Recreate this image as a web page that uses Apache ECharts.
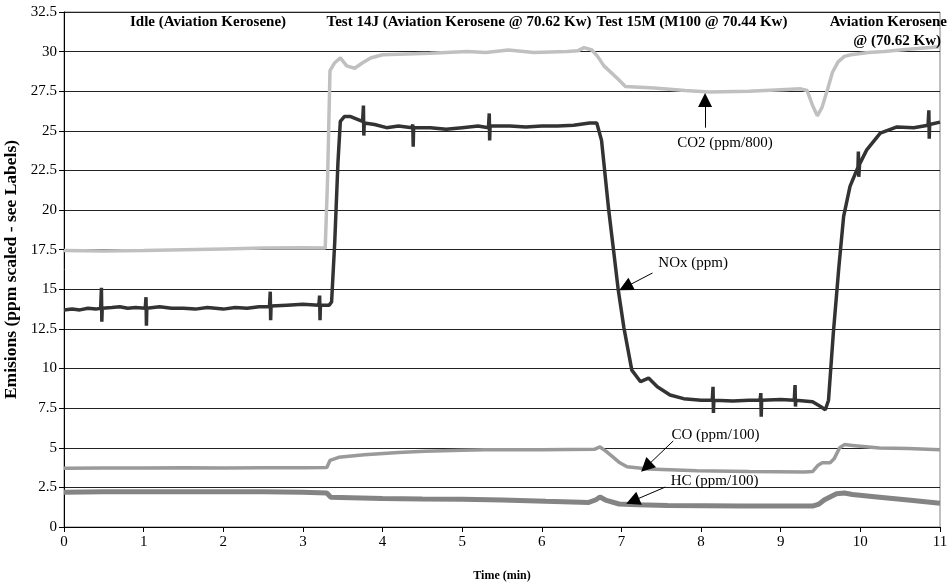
<!DOCTYPE html>
<html lang="en">
<head>
    <meta charset="UTF-8">
    <title>Emissions</title>
    <script src="https://cdn.jsdelivr.net/npm/echarts@6/dist/echarts.min.js"></script>
    <style>
        body { margin: 0; background: #fff; }
    </style>
</head>
<body>
   <div id="main" style="width: 952px;height:587px;"></div>
   <script type="text/javascript">
       // values, [time (min), scaled ppm]
       var co2Data = [[0,17.45],[0.5,17.42],[1.0,17.45],[1.5,17.5],[2.0,17.55],[2.5,17.6],[3.0,17.62],[3.28,17.6],
           [3.31,22],[3.34,28.8],[3.4,29.3],[3.47,29.6],[3.55,29.1],[3.65,28.95],[3.75,29.3],[3.85,29.6],[4.0,29.8],
           [4.3,29.85],[4.6,29.9],[5.06,30.0],[5.3,29.95],[5.58,30.1],[5.9,29.95],[6.32,30.0],[6.45,30.05],[6.53,30.25],
           [6.63,30.1],[6.7,29.7],[6.78,29.1],[6.95,28.3],[7.05,27.8],[7.41,27.7],[7.8,27.55],[8.1,27.45],[8.6,27.5],
           [9.0,27.6],[9.25,27.65],[9.33,27.55],[9.4,26.6],[9.46,25.95],[9.52,26.5],[9.59,27.65],[9.65,28.7],[9.72,29.35],
           [9.8,29.7],[9.88,29.8],[10.1,29.95],[10.3,30.0],[10.6,30.15],[11,30.3]];

       var noxData = [[0,13.7],[0.1,13.75],[0.2,13.7],[0.3,13.8],[0.4,13.75],[0.46,13.8],[0.47,15.1],[0.475,12.95],[0.48,13.8],
           [0.6,13.85],[0.7,13.9],[0.8,13.8],[0.9,13.85],[1.02,13.8],[1.03,14.5],[1.035,12.7],[1.04,13.8],[1.2,13.9],
           [1.35,13.8],[1.5,13.8],[1.65,13.75],[1.8,13.85],[2.0,13.75],[2.15,13.85],[2.3,13.8],[2.45,13.9],[2.58,13.9],
           [2.59,14.85],[2.595,13.05],[2.6,13.95],[2.8,14.0],[3.0,14.05],[3.2,14.0],[3.21,14.6],[3.215,13.05],[3.22,14.0],
           [3.33,14.0],[3.36,14.2],[3.4,18],[3.44,23],[3.47,25.6],[3.52,25.9],[3.6,25.9],[3.7,25.7],[3.75,25.6],
           [3.76,26.6],[3.765,24.7],[3.77,25.5],[3.9,25.4],[4.05,25.2],[4.2,25.3],[4.37,25.2],[4.38,25.4],[4.385,24.0],
           [4.39,25.2],[4.6,25.2],[4.8,25.1],[5.0,25.2],[5.2,25.3],[5.33,25.2],[5.34,26.1],[5.345,24.4],[5.35,25.3],
           [5.6,25.3],[5.8,25.25],[6.0,25.3],[6.2,25.3],[6.4,25.35],[6.6,25.5],[6.69,25.5],[6.75,24.4],[6.84,20.0],
           [6.9,17.5],[6.96,14.95],[7.03,12.6],[7.13,9.9],[7.24,9.17],[7.34,9.4],[7.45,8.85],[7.61,8.33],[7.78,8.1],
           [8.0,8.0],[8.14,8.0],[8.15,8.85],[8.155,7.2],[8.16,8.0],[8.4,7.95],[8.6,8.0],[8.74,8.0],[8.75,8.45],
           [8.755,6.96],[8.76,8.0],[9.0,8.05],[9.17,8.0],[9.18,8.96],[9.185,7.6],[9.19,8.0],[9.4,7.9],[9.5,7.6],
           [9.56,7.4],[9.6,8.0],[9.66,12.2],[9.73,16.4],[9.79,19.6],[9.87,21.5],[9.97,22.7],[9.975,23.7],[9.98,22.1],
           [9.99,22.9],[10.08,23.8],[10.25,24.85],[10.46,25.25],[10.67,25.2],[10.85,25.35],[10.86,26.3],[10.865,24.5],
           [10.87,25.4],[11,25.55]];

       var coData = [[0,3.7],[0.5,3.72],[1.0,3.72],[1.5,3.74],[2.0,3.72],[2.5,3.74],[3.0,3.74],[3.3,3.75],[3.34,4.2],
           [3.45,4.4],[3.77,4.56],[4.2,4.7],[4.53,4.78],[5.0,4.85],[5.29,4.88],[6.0,4.88],[6.66,4.9],[6.73,5.05],
           [6.8,4.8],[6.88,4.47],[6.98,4.05],[7.07,3.8],[7.34,3.66],[7.95,3.55],[8.6,3.5],[9.3,3.47],[9.4,3.5],
           [9.47,3.9],[9.52,4.05],[9.62,4.05],[9.67,4.3],[9.74,5.0],[9.8,5.2],[9.9,5.15],[10.24,4.98],[10.6,4.95],[11,4.88]];

       var hcData = [[0,2.2],[0.5,2.22],[1.0,2.22],[1.5,2.23],[2.0,2.22],[2.5,2.23],[3.0,2.2],[3.3,2.15],[3.35,1.88],
           [3.6,1.85],[4.0,1.8],[4.5,1.77],[5.0,1.75],[5.5,1.7],[6.05,1.62],[6.59,1.55],[6.68,1.72],[6.73,1.89],
           [6.8,1.7],[6.97,1.45],[7.2,1.4],[7.58,1.36],[8.5,1.33],[9.4,1.32],[9.48,1.45],[9.55,1.72],[9.7,2.1],
           [9.8,2.15],[9.9,2.05],[10.24,1.88],[10.6,1.7],[11,1.5]];

       // arrow annotations: [label, label pos, arrow tail, arrow tip] in data units
       var noteLabels = ['CO2 (ppm/800)', 'NOx (ppm)', 'CO (ppm/100)', 'HC (ppm/100)'];
       var noteTextAt = [[8.30,24.25],[7.90,16.66],[8.18,5.8],[8.17,2.9]];
       var noteTail = [[8.05,25.2],[7.39,16.03],[7.65,5.43],[7.55,2.52]];
       var noteTip = [[8.05,26.95],[7.05,15.14],[7.31,3.79],[7.14,1.64]];

       var phaseTitles = ['Idle (Aviation Kerosene)', 'Test 14J (Aviation Kerosene @ 70.62 Kw)',
           'Test 15M (M100 @ 70.44 Kw)', 'Aviation Kerosene', '@ (70.62 Kw)'];

       var serif = '"Liberation Serif", "DejaVu Serif", serif';

       var myChart = echarts.init(document.getElementById('main'));

       var arrows = [];
       for (var i = 0; i < noteTail.length; i++) {
           arrows.push([{coord: noteTail[i]}, {coord: noteTip[i]}]);
       }

       function line(name, data, color, width) {
           return {
               name: name,
               type: 'line',
               data: data,
               showSymbol: false,
               smooth: false,
               lineStyle: {color: color, width: width},
               z: 3
           };
       }

       var option = {
           animation: false,
           grid: {left: 64, right: 12, top: 12, bottom: 60, show: true, borderColor: '#808080', borderWidth: 1,
               outerBoundsMode: 'none', containLabel: false},
           xAxis: {
               type: 'value', min: 0, max: 11, interval: 1,
               name: 'Time (min)', nameLocation: 'middle', nameGap: 43,
               nameTextStyle: {fontFamily: serif, fontWeight: 'bold', fontSize: 12, color: '#000'},
               axisLine: {lineStyle: {color: '#000'}},
               axisTick: {show: true, length: 5, lineStyle: {color: '#000'}},
               axisLabel: {fontFamily: serif, fontSize: 15, color: '#000', margin: 8},
               splitLine: {show: false}
           },
           yAxis: {
               type: 'value', min: 0, max: 32.5, interval: 2.5,
               name: 'Emisions (ppm scaled - see Labels)', nameLocation: 'middle', nameGap: 44,
               nameMoveOverlap: false,
               nameTextStyle: {fontFamily: serif, fontWeight: 'bold', fontSize: 17.5, color: '#000'},
               axisLine: {show: true, lineStyle: {color: '#000'}},
               axisTick: {show: true, length: 5, lineStyle: {color: '#000'}},
               axisLabel: {fontFamily: serif, fontSize: 15, color: '#000', margin: 7},
               splitLine: {show: true, lineStyle: {color: '#222', width: 1}}
           },
           series: [
               line('HC', hcData, '#848484', 5),
               line('CO', coData, '#9a9a9a', 3.5),
               line('CO2', co2Data, '#c0c0c0', 3.5),
               line('NOx', noxData, '#333333', 3.5),
               {
                   name: 'notes',
                   type: 'line',
                   data: [],
                   markLine: {
                       silent: true,
                       symbol: ['none', 'triangle'],
                       symbolSize: [14, 14],
                       label: {show: false},
                       lineStyle: {color: '#000', width: 1, type: 'solid'},
                       data: arrows
                   },
                   z: 5
               }
           ]
       };

       myChart.setOption(option);

       // text placed after the axes exist so data coords can be converted
       var texts = [];
       for (var j = 0; j < noteLabels.length; j++) {
           var p = myChart.convertToPixel({gridIndex: 0}, noteTextAt[j]);
           texts.push({
               type: 'text', x: p[0], y: p[1], z: 10,
               style: {text: noteLabels[j], font: '15px ' + serif, fill: '#000', align: 'center', verticalAlign: 'middle'}
           });
       }
       var titleAt = [[208,22,'center'],[459,22,'center'],[692,22,'center'],[947,22,'right'],[941,41,'right']];
       for (var k = 0; k < phaseTitles.length; k++) {
           texts.push({
               type: 'text', x: titleAt[k][0], y: titleAt[k][1], z: 10,
               style: {text: phaseTitles[k], font: 'bold 15px ' + serif, fill: '#000',
                   align: titleAt[k][2], verticalAlign: 'middle'}
           });
       }
       myChart.setOption({graphic: texts});
   </script>
</body>
</html>
